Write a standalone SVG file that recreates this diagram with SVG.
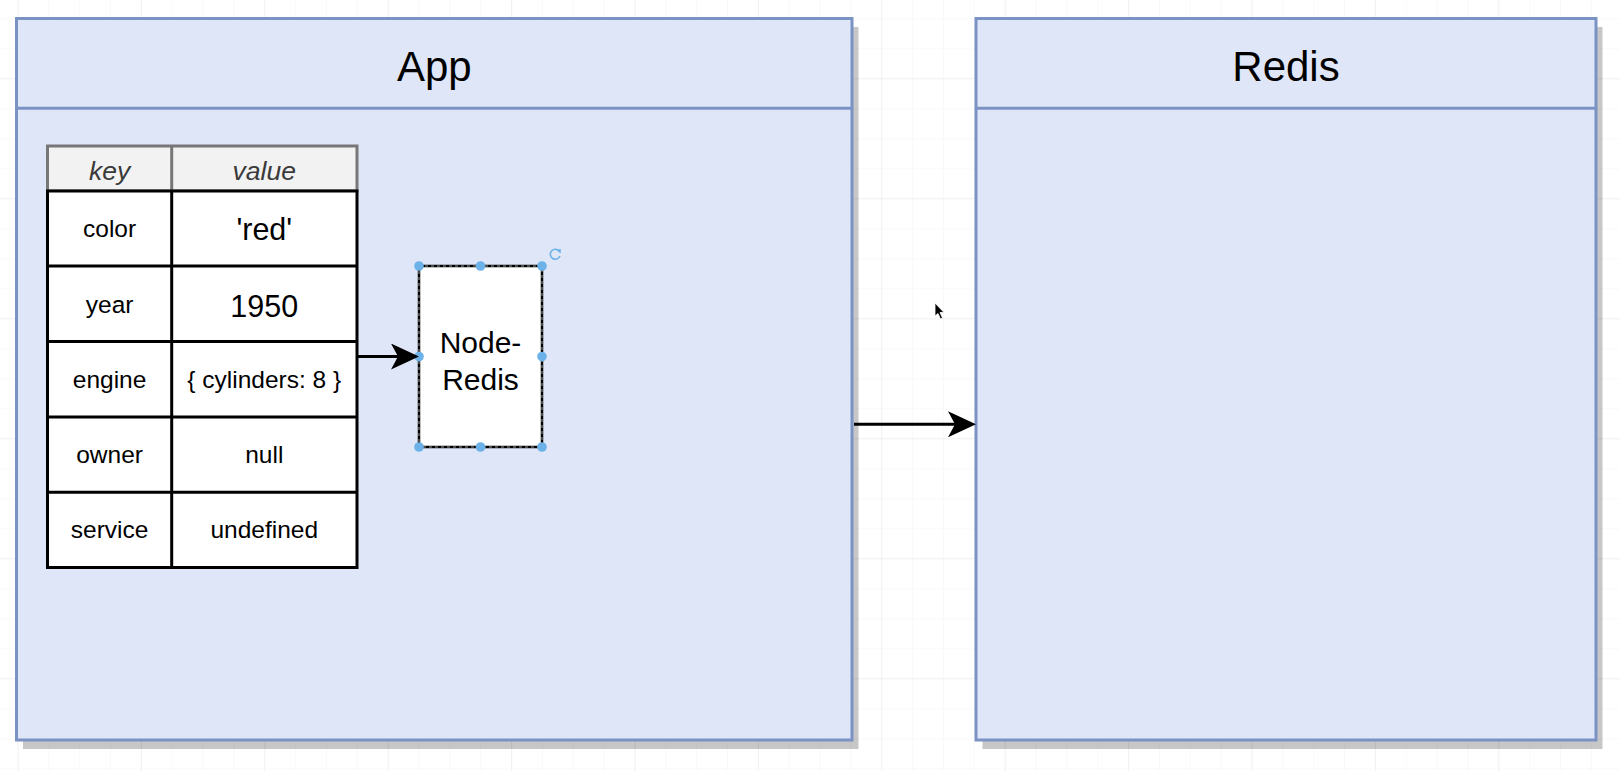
<svg xmlns="http://www.w3.org/2000/svg" width="1620" height="771" viewBox="0 0 1620 771">
  <defs>
    <style>
      text { font-family: "Liberation Sans", Arial, sans-serif; fill: #000; text-anchor: middle; }
      .title { font-size: 42px; }
      .hdr { font-size: 26.5px; font-style: italic; fill: #3a3a3a; }
      .cell { font-size: 24.5px; }
      .big { font-size: 30.5px; }
      .node { font-size: 30px; }
      .box { fill: #dfe6f7; stroke: #7b93c4; stroke-width: 3; }
      .shadow { fill: #000; opacity: 0.22; }
      .conn { stroke: #000; stroke-width: 3; fill: none; }
      .handle { fill: #6cb2e8; }
    </style>
    <pattern id="minor" patternUnits="userSpaceOnUse" x="17.5" y="18.3" width="30.85" height="30">
      <path d="M0 0 V30 M0 0 H30.85" stroke="#f3f3f3" stroke-width="1" fill="none"/>
    </pattern>
    <pattern id="major" patternUnits="userSpaceOnUse" x="17.5" y="78.3" width="123.4" height="120">
      <path d="M0 0 V120 M0 0 H123.4" stroke="#e7e7e7" stroke-width="1" fill="none"/>
    </pattern>
    <marker id="arrow" markerUnits="userSpaceOnUse" viewBox="0 -13 28 26" refX="8" refY="0" markerWidth="28" markerHeight="26" orient="auto">
      <path d="M0 -13 L28 0 L0 13 L7 0 Z" fill="#000"/>
    </marker>
  </defs>

  <rect x="0" y="0" width="1620" height="771" fill="#fff"/>
  <rect x="0" y="0" width="1620" height="771" fill="url(#minor)"/>
  <rect x="0" y="0" width="1620" height="771" fill="url(#major)"/>

  <g id="app">
    <rect class="shadow" x="23" y="27" width="835.5" height="722"/>
    <rect class="box" x="16.5" y="18.5" width="835.5" height="721.5"/>
    <line x1="16.5" y1="108.3" x2="852" y2="108.3" stroke="#7b93c4" stroke-width="3"/>
    <text class="title" x="434.3" y="81">App</text>
  </g>

  <g id="redis">
    <rect class="shadow" x="982.5" y="27" width="620" height="722"/>
    <rect class="box" x="976" y="18.5" width="620" height="721.5"/>
    <line x1="976" y1="108.3" x2="1596" y2="108.3" stroke="#7b93c4" stroke-width="3"/>
    <text class="title" x="1286" y="81">Redis</text>
  </g>

  <g id="table">
    <rect x="47.5" y="146" width="309.5" height="45" fill="#f2f2f2" stroke="#777" stroke-width="3"/>
    <line x1="171.7" y1="146" x2="171.7" y2="191" stroke="#777" stroke-width="3"/>
    <rect x="47.5" y="191" width="309.5" height="376.5" fill="#fff" stroke="#000" stroke-width="3"/>
    <line x1="171.7" y1="191" x2="171.7" y2="567.5" stroke="#000" stroke-width="3"/>
    <line x1="47.5" y1="266" x2="357" y2="266" stroke="#000" stroke-width="3"/>
    <line x1="47.5" y1="341.5" x2="357" y2="341.5" stroke="#000" stroke-width="3"/>
    <line x1="47.5" y1="417" x2="357" y2="417" stroke="#000" stroke-width="3"/>
    <line x1="47.5" y1="492.3" x2="357" y2="492.3" stroke="#000" stroke-width="3"/>
    <text class="hdr" x="109.6" y="180">key</text>
    <text class="hdr" x="264.3" y="180">value</text>
    <text class="cell" x="109.6" y="237.3">color</text>
    <text class="big" x="264.3" y="240">'red'</text>
    <text class="cell" x="109.6" y="312.7">year</text>
    <text class="big" x="264.3" y="317.3">1950</text>
    <text class="cell" x="109.6" y="388.3">engine</text>
    <text class="cell" x="264.3" y="388.3">{ cylinders: 8 }</text>
    <text class="cell" x="109.6" y="463.3">owner</text>
    <text class="cell" x="264.3" y="463.3">null</text>
    <text class="cell" x="109.6" y="538.3">service</text>
    <text class="cell" x="264.3" y="538.3">undefined</text>
  </g>

  <g id="node-redis">
    <rect x="419" y="266" width="123" height="181" fill="#fff" stroke="#000" stroke-width="2.5"/>
    <rect x="419" y="266" width="123" height="181" fill="none" stroke="#9a9a9a" stroke-width="1" stroke-dasharray="3 3"/>
    <text class="node" x="480.5" y="353.3">Node-</text>
    <text class="node" x="480.5" y="390">Redis</text>
    <circle class="handle" cx="419" cy="266" r="4.8"/>
    <circle class="handle" cx="480.5" cy="266" r="4.8"/>
    <circle class="handle" cx="542" cy="266" r="4.8"/>
    <circle class="handle" cx="419" cy="356.5" r="4.8"/>
    <circle class="handle" cx="542" cy="356.5" r="4.8"/>
    <circle class="handle" cx="419" cy="447" r="4.8"/>
    <circle class="handle" cx="480.5" cy="447" r="4.8"/>
    <circle class="handle" cx="542" cy="447" r="4.8"/>
    <path d="M559.5 251.5 A5 5 0 1 0 560 256" fill="none" stroke="#6cb2e8" stroke-width="1.6"/>
    <path d="M556.5 250 L561 249 L560.5 253.5 Z" fill="#6cb2e8"/>
  </g>

  <g id="connectors">
    <line class="conn" x1="357" y1="356.5" x2="399" y2="356.5" marker-end="url(#arrow)"/>
    <line class="conn" x1="854" y1="424.3" x2="956" y2="424.3" marker-end="url(#arrow)"/>
  </g>

  <g id="cursor">
    <path d="M935 303 L935 316 L938 313.5 L940.5 319 L942.5 318 L940 312.5 L944 312.5 Z" fill="#000" stroke="#fff" stroke-width="0.8"/>
  </g>
</svg>
